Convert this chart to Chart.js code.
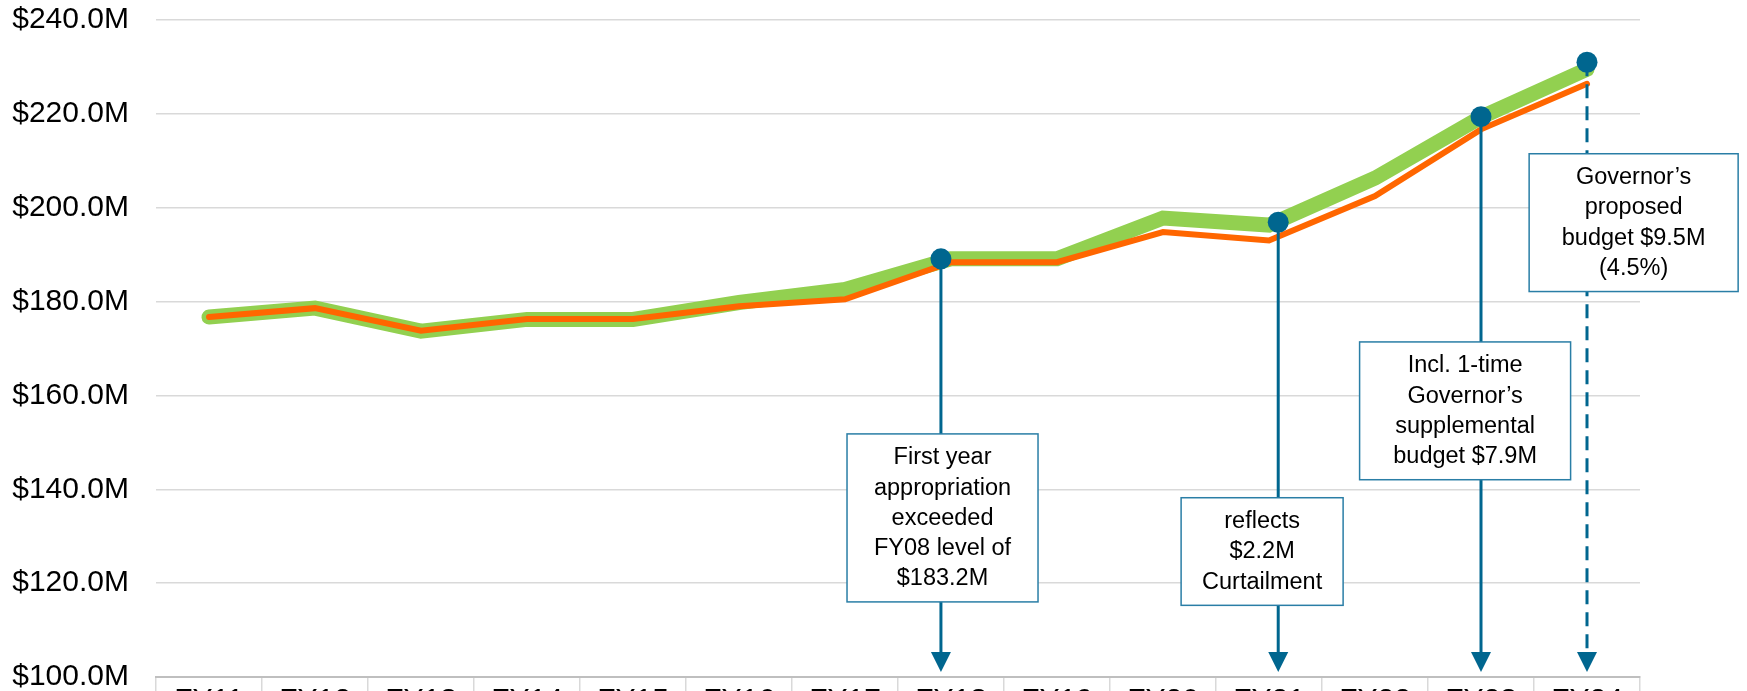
<!DOCTYPE html>
<html>
<head>
<meta charset="utf-8">
<script src="https://cdn.jsdelivr.net/npm/chart.js@4/dist/chart.umd.min.js"></script>
<style>
  html, body { margin: 0; padding: 0; background: #ffffff; overflow: hidden; }
  #wrap { width: 1747px; height: 691px; overflow: hidden; }
  canvas { display: block; }
</style>
</head>
<body>
<div id="wrap"><canvas id="chart" width="1747" height="740"></canvas></div>
<script>
// Fiscal years on the category axis
const categories = ['FY11', 'FY12', 'FY13', 'FY14', 'FY15', 'FY16', 'FY17',
                    'FY18', 'FY19', 'FY20', 'FY21', 'FY22', 'FY23', 'FY24'];

// Total appropriation, $M (wide green band)
const totalAppropriation = [176.7, 178.6, 173.7, 176.2, 176.2, 179.8, 182.6,
                            189.1, 189.1, 197.8, 196.3, 206.3, 219.3, 229.5];

// Base appropriation, $M (orange line)
const baseAppropriation = [176.7, 178.6, 173.8, 176.3, 176.3, 179.0, 180.5,
                           188.4, 188.4, 194.8, 193.0, 202.5, 216.7, 226.4];

// Value axis range, $M
const yMin = 100;
const yMax = 240;
const yStep = 20;

// Call-outs: year, marker value ($M) and text lines
const noteYears = ['FY18', 'FY21', 'FY23', 'FY24'];
const noteValues = [189.1, 196.9, 219.4, 231.0];
const noteTexts = [
  ['First year', 'appropriation', 'exceeded', 'FY08 level of', '$183.2M'],
  ['reflects', '$2.2M', 'Curtailment'],
  ['Incl. 1-time', 'Governor\u2019s', 'supplemental', 'budget $7.9M'],
  ['Governor\u2019s', 'proposed', 'budget $9.5M', '(4.5%)']
];

// Placement of each call-out: stem shift (in categories), box centre (in categories),
// box top (in $M), box width (px), dashed stem
const noteLayout = [
  { shift: -0.095, boxCenter: 6.92,  boxTop: 151.8, boxWidth: 191, dashed: false },
  { shift:  0.087, boxCenter: 9.935, boxTop: 138.2, boxWidth: 162, dashed: false },
  { shift:  0.0,   boxCenter: 11.85, boxTop: 171.4, boxWidth: 211, dashed: false },
  { shift:  0.0,   boxCenter: 13.44, boxTop: 211.5, boxWidth: 209, dashed: true  }
];

const FONT = "'Liberation Sans', Arial, sans-serif";
const NOTE_BLUE = '#00668f';
const BOX_BORDER = '#2a7ea6';

const calloutPlugin = {
  id: 'callouts',
  afterDatasetsDraw(chart) {
    const { ctx, chartArea, scales: { x, y } } = chart;
    const tipY = chartArea.bottom - 5;
    const pts = noteYears.map((yr, i) => ({
      px: x.getPixelForValue(categories.indexOf(yr) + noteLayout[i].shift),
      py: y.getPixelForValue(noteValues[i])
    }));

    // stems and arrowheads
    pts.forEach((p, i) => {
      ctx.save();
      ctx.strokeStyle = NOTE_BLUE;
      ctx.fillStyle = NOTE_BLUE;
      ctx.lineWidth = 3;
      ctx.setLineDash(noteLayout[i].dashed ? [14, 8] : []);
      ctx.beginPath();
      ctx.moveTo(p.px, p.py);
      ctx.lineTo(p.px, tipY - 16);
      ctx.stroke();
      ctx.setLineDash([]);
      ctx.beginPath();
      ctx.moveTo(p.px - 10, tipY - 20);
      ctx.lineTo(p.px + 10, tipY - 20);
      ctx.lineTo(p.px, tipY);
      ctx.closePath();
      ctx.fill();
      ctx.restore();
    });

    // text boxes
    const lineH = 30.2;
    noteTexts.forEach((lines, i) => {
      const lay = noteLayout[i];
      const cx = x.getPixelForValue(lay.boxCenter);
      const top = y.getPixelForValue(lay.boxTop);
      const h = lines.length * lineH + 17;
      const left = cx - lay.boxWidth / 2;
      ctx.save();
      ctx.fillStyle = '#ffffff';
      ctx.fillRect(left, top, lay.boxWidth, h);
      ctx.strokeStyle = BOX_BORDER;
      ctx.lineWidth = 1.5;
      ctx.strokeRect(left, top, lay.boxWidth, h);
      ctx.fillStyle = '#000000';
      ctx.font = '23.5px ' + FONT;
      ctx.textAlign = 'center';
      ctx.textBaseline = 'middle';
      lines.forEach((t, k) => {
        ctx.fillText(t, cx, top + 24 + k * lineH);
      });
      ctx.restore();
    });

    // markers
    pts.forEach(p => {
      ctx.save();
      ctx.fillStyle = NOTE_BLUE;
      ctx.beginPath();
      ctx.arc(p.px, p.py, 10.5, 0, Math.PI * 2);
      ctx.fill();
      ctx.restore();
    });
  }
};

new Chart(document.getElementById('chart'), {
  type: 'line',
  data: {
    labels: categories,
    datasets: [
      {
        label: 'Total appropriation',
        data: totalAppropriation,
        borderColor: '#92d050',
        borderWidth: 15,
        borderCapStyle: 'round',
        borderJoinStyle: 'miter',
        pointRadius: 0,
        tension: 0,
        order: 1
      },
      {
        label: 'Base appropriation',
        data: baseAppropriation,
        borderColor: '#ff6600',
        borderWidth: 6,
        borderCapStyle: 'round',
        borderJoinStyle: 'miter',
        pointRadius: 0,
        tension: 0,
        order: 0
      }
    ]
  },
  options: {
    responsive: false,
    animation: false,
    events: [],
    layout: { padding: { top: 20, right: 107, bottom: 0, left: 0 } },
    plugins: { legend: { display: false }, tooltip: { enabled: false } },
    scales: {
      x: {
        offset: true,
        grid: {
          offset: true,
          drawOnChartArea: false,
          drawTicks: true,
          tickLength: 45,
          color: '#d9d9d9',
          lineWidth: 1.5
        },
        border: { display: true, color: '#bfbfbf', width: 2 },
        ticks: {
          color: '#000000',
          font: { family: FONT, size: 30 },
          padding: -39,
          maxRotation: 0,
          autoSkip: false
        },
        afterFit(s) { s.height = 63; }
      },
      y: {
        min: yMin,
        max: yMax,
        grid: { color: '#d9d9d9', lineWidth: 1.5, drawTicks: false },
        border: { display: false },
        ticks: {
          stepSize: yStep,
          color: '#000000',
          padding: 27,
          font: { family: FONT, size: 30 },
          callback: v => '$' + Number(v).toFixed(1) + 'M'
        },
        afterFit(s) {
          s.width = 156;
          s.paddingTop = 0;
          s.paddingBottom = 0;
        }
      }
    }
  },
  plugins: [calloutPlugin]
});
</script>
</body>
</html>
